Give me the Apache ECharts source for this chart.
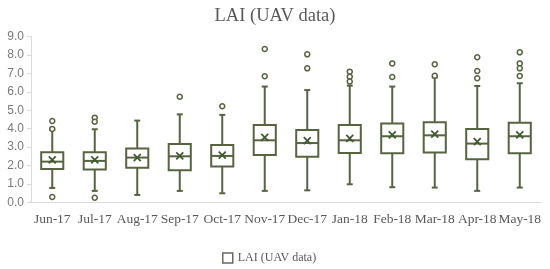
<!DOCTYPE html>
<html>
<head>
<meta charset="utf-8">
<title>LAI (UAV data)</title>
<script src="https://cdn.jsdelivr.net/npm/echarts@6/dist/echarts.min.js"></script>
<style>
  html, body { margin: 0; padding: 0; background: #fff; }
  #chart { width: 550px; height: 269px; }
</style>
</head>
<body>
<div id="chart"></div>
<script>
'use strict';

const months = ["Jun-17","Jul-17","Aug-17","Sep-17","Oct-17","Nov-17","Dec-17","Jan-18","Feb-18","Mar-18","Apr-18","May-18"];
const lowWhisker  = [0.78, 0.62, 0.40, 0.62, 0.49, 0.62, 0.65, 0.98, 0.82, 0.80, 0.62, 0.80];
const q1          = [1.81, 1.78, 1.88, 1.74, 1.94, 2.57, 2.48, 2.68, 2.66, 2.70, 2.34, 2.66];
const median      = [2.21, 2.25, 2.43, 2.50, 2.52, 3.37, 3.22, 3.37, 3.59, 3.64, 3.19, 3.59];
const q3          = [2.72, 2.72, 2.93, 3.17, 3.12, 4.20, 3.93, 4.20, 4.28, 4.35, 3.99, 4.33];
const highWhisker = [3.93, 3.97, 4.44, 4.78, 4.75, 6.29, 6.10, 6.34, 6.29, 6.78, 6.32, 6.47];
const mean        = [2.30, 2.30, 2.43, 2.52, 2.57, 3.53, 3.35, 3.48, 3.66, 3.70, 3.30, 3.66];
const outliers = [
  [0, 4.42], [0, 3.99], [0, 0.29],
  [1, 4.60], [1, 4.38], [1, 0.25],
  [3, 5.74],
  [4, 5.22],
  [5, 8.33], [5, 6.85],
  [6, 8.04], [6, 7.28],
  [7, 7.10], [7, 6.83], [7, 6.56],
  [8, 7.55], [8, 6.81],
  [9, 7.50], [9, 6.88],
  [10, 7.88], [10, 7.14], [10, 6.74],
  [11, 8.15], [11, 7.55], [11, 7.28], [11, 6.87]
];
const yTicks = [0, 9, 1];

const lineCol = '#56653f';
const textCol = '#595959';
const serif = '"Liberation Serif", "DejaVu Serif", serif';

function renderBox(params, api) {
  const x = api.value(0);
  const pLow = api.coord([x, api.value(1)]);
  const pQ1 = api.coord([x, api.value(2)]);
  const pMed = api.coord([x, api.value(3)]);
  const pQ3 = api.coord([x, api.value(4)]);
  const pHigh = api.coord([x, api.value(5)]);
  const pMean = api.coord([x, api.value(6)]);
  const band = api.size([1, 0])[0];
  const half = band * 0.26;
  const cap = 3;
  const cx = pQ1[0];
  const ls = { stroke: lineCol, lineWidth: 2, fill: null };
  const m = 3.5;
  return {
    type: 'group',
    children: [
      { type: 'line', shape: { x1: cx, y1: pHigh[1], x2: cx, y2: pQ3[1] }, style: ls },
      { type: 'line', shape: { x1: cx, y1: pQ1[1], x2: cx, y2: pLow[1] }, style: ls },
      { type: 'line', shape: { x1: cx - cap, y1: pHigh[1], x2: cx + cap, y2: pHigh[1] }, style: ls },
      { type: 'line', shape: { x1: cx - cap, y1: pLow[1], x2: cx + cap, y2: pLow[1] }, style: ls },
      { type: 'rect', shape: { x: cx - half, y: pQ3[1], width: half * 2, height: pQ1[1] - pQ3[1] },
        style: { stroke: lineCol, lineWidth: 2, fill: '#fff' } },
      { type: 'line', shape: { x1: cx - half, y1: pMed[1], x2: cx + half, y2: pMed[1] }, style: ls },
      { type: 'line', shape: { x1: cx - m, y1: pMean[1] - m, x2: cx + m, y2: pMean[1] + m },
        style: { stroke: '#3f5a30', lineWidth: 1.8 } },
      { type: 'line', shape: { x1: cx - m, y1: pMean[1] + m, x2: cx + m, y2: pMean[1] - m },
        style: { stroke: '#3f5a30', lineWidth: 1.8 } }
    ]
  };
}

function makeChart() {
  const boxData = months.map((m, i) => [i, lowWhisker[i], q1[i], median[i], q3[i], highWhisker[i], mean[i]]);
  const chart = echarts.init(document.getElementById('chart'), null, { renderer: 'canvas' });
  const option = {
    animation: false,
    title: {
      text: 'LAI (UAV data)',
      left: 'center',
      top: 2,
      textStyle: { fontFamily: serif, fontSize: 18.5, fontWeight: 'normal', color: textCol }
    },
    legend: {
      bottom: 0,
      left: 217,
      itemWidth: 10,
      itemHeight: 10,
      itemGap: 6,
      textStyle: { fontFamily: serif, fontSize: 12, color: textCol },
      data: [{
        name: 'LAI (UAV data)',
        icon: 'rect',
        itemStyle: { color: '#fff', borderColor: '#6a6a60', borderWidth: 1.5 }
      }]
    },
    grid: { left: 31, right: 9, top: 36.7, bottom: 66.7 },
    xAxis: {
      type: 'category',
      data: months,
      boundaryGap: true,
      axisLine: { lineStyle: { color: '#d9d9d9', width: 1 } },
      axisTick: { show: false },
      axisLabel: { interval: 0, margin: 10, fontFamily: serif, fontSize: 13.5, color: textCol }
    },
    yAxis: {
      type: 'value',
      min: yTicks[0],
      max: yTicks[1],
      interval: yTicks[2],
      axisLine: { show: true, lineStyle: { color: '#d9d9d9', width: 1 } },
      axisTick: { show: true, length: 4, lineStyle: { color: '#d9d9d9' } },
      splitLine: { show: false },
      axisLabel: {
        margin: 7,
        fontFamily: '"Liberation Sans", "Open Sans", sans-serif',
        fontSize: 12,
        color: '#7a7a7a',
        formatter: v => v.toFixed(1)
      }
    },
    series: [
      {
        name: 'LAI (UAV data)',
        type: 'custom',
        renderItem: renderBox,
        encode: { x: 0, y: [1, 2, 3, 4, 5, 6] },
        data: boxData,
        z: 2
      },
      {
        name: 'outliers',
        type: 'scatter',
        symbol: 'circle',
        symbolSize: 5,
        itemStyle: { color: '#fff', borderColor: lineCol, borderWidth: 1.5, opacity: 1 },
        data: outliers,
        z: 3
      }
    ]
  };
  chart.setOption(option);
}

makeChart();
</script>
</body>
</html>
